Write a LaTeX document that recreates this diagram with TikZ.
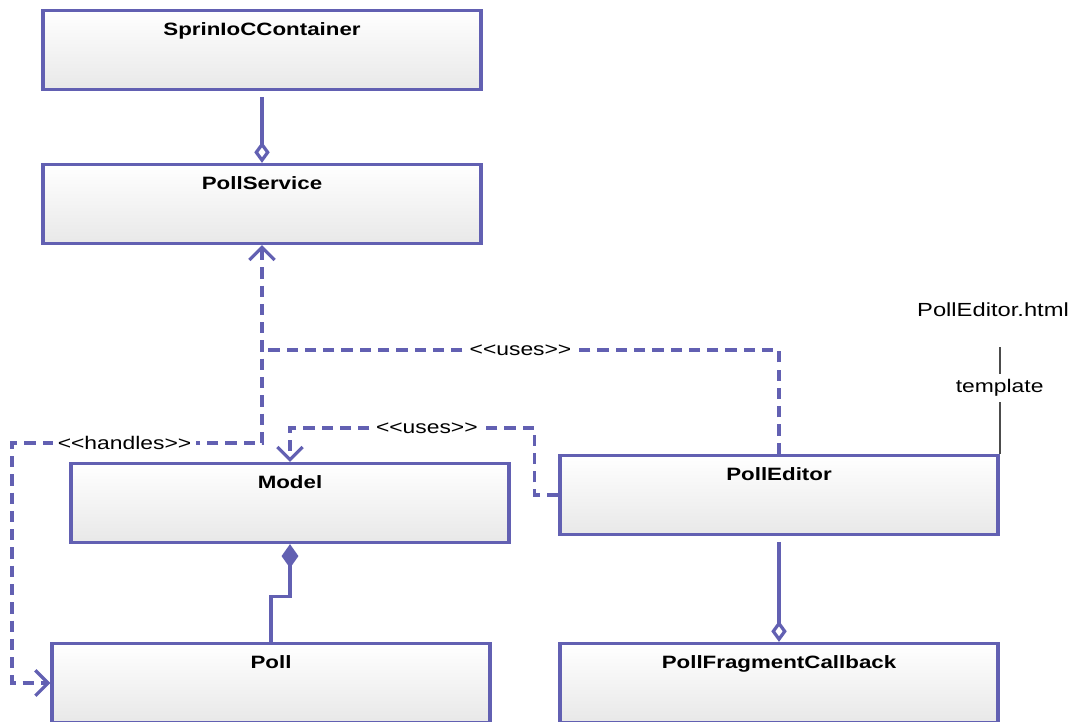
\documentclass[tikz,border=0pt]{standalone}
\usepackage{fontspec}
\setmainfont{Liberation Sans}[FakeStretch=1.25]
\usepackage{tikz}
\usetikzlibrary{arrows.meta}
\definecolor{umlblue}{RGB}{98,96,178}

\newcommand{\stereo}[1]{\textless\kern0pt\textless#1\textgreater\kern0pt\textgreater}

\begin{document}
\begin{tikzpicture}[x=0.025cm, y=-0.025cm, >={Straight Barb[length=9pt,width=18pt]}]
\tikzstyle{block} = [draw=umlblue, line width=2.3pt, rectangle, top color=white, bottom color=black!9, minimum width=10.95cm, minimum height=1.975cm, inner ysep=8pt, text height=10pt, text depth=30pt, font=\fontsize{12.7}{15}\selectfont\bfseries]
\tikzstyle{dep} = [draw=umlblue, line width=2.3pt, dash pattern=on 8pt off 5pt]
\tikzstyle{assoc} = [draw=umlblue, line width=2.3pt]
\tikzstyle{tag} = [fill=white, inner xsep=3.5pt, inner ysep=4pt, font=\fontsize{13}{15}\selectfont]
\tikzstyle{noteline} = [draw=black!70, line width=1.5pt]

\useasboundingbox (0,0) rectangle (1070,722);

    % the classes
    \node [block] (ioc_container) at (262,50) {SprinIoCContainer};
    \node [block] (poll_service) at (262,204) {PollService};
    \node [block] (model) at (290,503) {Model};
    \node [block] (poll_editor) at (779,495) {PollEditor};
    \node [block] (poll) at (271,683) {Poll};
    \node [block] (fragment_cb) at (779,683) {PollFragmentCallback};
    \node [font=\fontsize{13.5}{15}\selectfont] (editor_html) at (993,310) {PollEditor.html};

    \coordinate (uses_knee) at (262,350);
    \coordinate (handles_knee) at (262,443);
    \coordinate (handles_left) at (12,443);
    \coordinate (model_knee) at (290,428);

    % then the connectors between them
    \draw [assoc, shorten <=4pt, -{Diamond[open,fill=white,length=15pt,width=11pt]}] (ioc_container) -- (poll_service);
    \draw [dep, <->] (poll_service) -- (handles_knee) -- node[tag, pos=0.55] {\stereo{handles}} (handles_left) |- (poll);
    \draw [dep] (poll_editor) |- node[tag, pos=0.75] {\stereo{uses}} (uses_knee);
    \draw [dep, ->] (poll_editor.west) -- ++(-24,0) |- node[tag, pos=0.72] {\stereo{uses}} (model_knee) -- (model.north);
    \draw [assoc, {Diamond[length=17pt,width=12pt]}-] (model.south) -- ++(0,52) -| (poll);
    \draw [assoc, shorten <=4pt, -{Diamond[open,fill=white,length=15pt,width=11pt]}] (poll_editor) -- (fragment_cb);
    \draw [noteline, shorten >=18pt] (poll_editor.north east) -- node[tag] (template_lbl) {template} (poll_editor.north east |- editor_html.south);

\end{tikzpicture}
\end{document}
